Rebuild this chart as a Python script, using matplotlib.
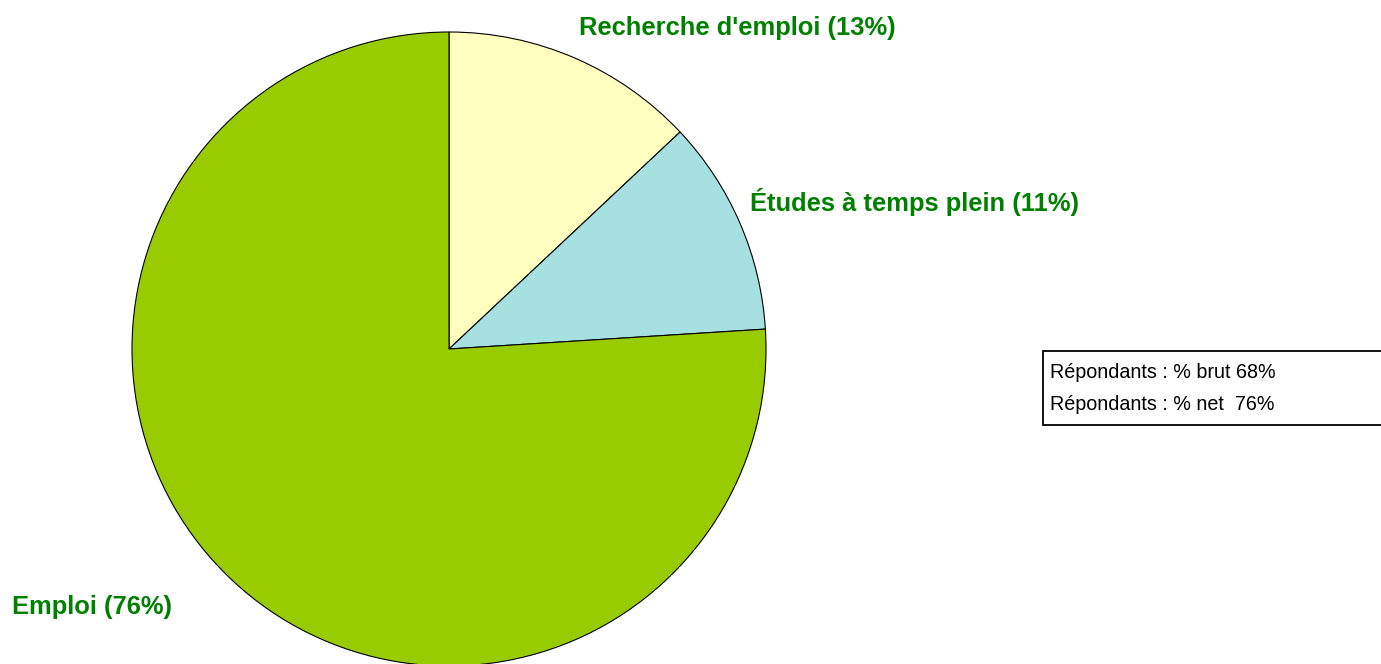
import matplotlib.pyplot as plt
from matplotlib.patches import Rectangle

plt.rcParams['font.family'] = ['Liberation Sans', 'DejaVu Sans']

labels = ["Recherche d'emploi (13%)", "Études à temps plein (11%)", "Emploi (76%)"]
values = [13, 11, 76]
colors = ['#FFFFC0', '#A6E0E0', '#99CC00']
notes = ["Répondants : % brut 68%", "Répondants : % net  76%"]

W, H = 1381, 664
fig = plt.figure(figsize=(W / 100, H / 100), dpi=100)
ax = fig.add_axes([0, 0, 1, 1])
ax.set_xlim(0, W)
ax.set_ylim(0, H)
ax.set_aspect('equal')
ax.axis('off')

ax.pie(values, colors=colors, startangle=90, counterclock=False,
       center=(449, H - 349), radius=317,
       wedgeprops=dict(edgecolor='black', linewidth=0.8))
ax.set_xlim(0, W)
ax.set_ylim(0, H)

green = '#008000'
ax.text(737, H - 28, labels[0], color=green, fontsize=18.4, fontweight='bold',
        ha='center', va='center')
ax.text(750, H - 202, labels[1], color=green, fontsize=18.4, fontweight='bold',
        ha='left', va='center')
ax.text(12, H - 607, labels[2], color=green, fontsize=18.4, fontweight='bold',
        ha='left', va='center')

ax.add_patch(Rectangle((1043, H - 425), 345, 74, facecolor='white',
                       edgecolor='black', linewidth=1.3, clip_on=True))
ax.text(1050, H - 373, notes[0], fontsize=14.2, ha='left', va='center')
ax.text(1050, H - 404, notes[1], fontsize=14.2, ha='left', va='center')

fig.savefig('out.png', dpi=100)
